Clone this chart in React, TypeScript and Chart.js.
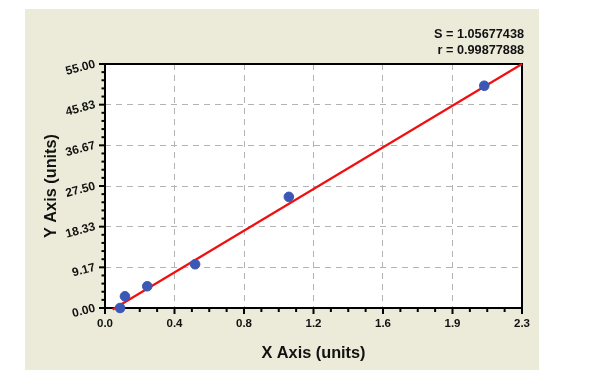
import { useEffect, useRef } from "react";
import { Chart, registerables } from "chart.js";

Chart.register(...registerables);

const xTickValues = [0, 0.38333, 0.76667, 1.15, 1.53333, 1.91667, 2.3];
const xTickLabels = ["0.0", "0.4", "0.8", "1.2", "1.6", "1.9", "2.3"];
const yTickValues = [0, 9.1667, 18.3333, 27.5, 36.6667, 45.8333, 55];
const yTickLabels = ["0.00", "9.17", "18.33", "27.50", "36.67", "45.83", "55.00"];
const pointX = [0.083, 0.11, 0.233, 0.497, 1.014, 2.092];
const pointY = [0.0, 2.64, 4.9, 9.86, 25.05, 50.1];
const fitX = [0.042, 2.3];
const fitY = [-0.35, 55];
const statLines = ["S = 1.05677438", "r = 0.99877888"];
const xTitle = "X Axis (units)";
const yTitle = "Y Axis (units)";

const FONT = "'Liberation Sans', Arial, sans-serif";

const decorPlugin = {
  id: "decor",
  beforeDraw(chart: any) {
    const ctx = chart.ctx;
    const a = chart.chartArea;
    ctx.save();
    ctx.fillStyle = "#ffffff";
    ctx.fillRect(0, 0, chart.width, chart.height);
    ctx.fillStyle = "#ECEBDA";
    ctx.fillRect(25, 9, 514, 361);
    ctx.fillStyle = "#ffffff";
    ctx.fillRect(a.left, a.top, a.right - a.left, a.bottom - a.top);
    ctx.restore();
  },
  beforeDatasetsDraw(chart: any) {
    const ctx = chart.ctx;
    const a = chart.chartArea;
    const xs = chart.scales.x;
    const ys = chart.scales.y;
    ctx.save();
    ctx.strokeStyle = "#000";
    ctx.lineWidth = 2;
    for (let i = 0; i < xTickValues.length; i++) {
      const px = xs.getPixelForValue(xTickValues[i]);
      ctx.beginPath();
      ctx.moveTo(px, a.bottom);
      ctx.lineTo(px, a.bottom + 6);
      ctx.stroke();
      if (i < xTickValues.length - 1) {
        const step = (xTickValues[i + 1] - xTickValues[i]) / 4;
        for (let k = 1; k < 4; k++) {
          const mx = xs.getPixelForValue(xTickValues[i] + step * k);
          ctx.beginPath();
          ctx.moveTo(mx, a.bottom);
          ctx.lineTo(mx, a.bottom + 4);
          ctx.stroke();
        }
      }
    }
    for (let i = 0; i < yTickValues.length; i++) {
      const py = ys.getPixelForValue(yTickValues[i]);
      ctx.beginPath();
      ctx.moveTo(a.left, py);
      ctx.lineTo(a.left - 6, py);
      ctx.stroke();
      if (i < yTickValues.length - 1) {
        const step = (yTickValues[i + 1] - yTickValues[i]) / 5;
        for (let k = 1; k < 5; k++) {
          const my = ys.getPixelForValue(yTickValues[i] + step * k);
          ctx.beginPath();
          ctx.moveTo(a.left, my);
          ctx.lineTo(a.left - 3.5, my);
          ctx.stroke();
        }
      }
    }
    ctx.strokeRect(a.left, a.top, a.right - a.left, a.bottom - a.top);
    ctx.restore();
  },
  afterDraw(chart: any) {
    const ctx = chart.ctx;
    const a = chart.chartArea;
    ctx.save();
    ctx.fillStyle = "#111";
    ctx.font = `bold 12.7px ${FONT}`;
    ctx.textAlign = "right";
    ctx.textBaseline = "middle";
    statLines.forEach((t, i) => ctx.fillText(t, a.right + 2, 34 + i * 16.5));
    ctx.restore();
  },
};

export default function App() {
  const ref = useRef<HTMLCanvasElement>(null);
  useEffect(() => {
    if (!ref.current) return;
    const chart = new Chart(ref.current, {
      type: "scatter",
      data: {
        datasets: [
          {
            type: "line",
            data: fitX.map((x, i) => ({ x, y: fitY[i] })),
            borderColor: "#f01010",
            borderWidth: 2.2,
            pointRadius: 0,
            fill: false,
            clip: false,
            order: 2,
          } as any,
          {
            type: "scatter",
            data: pointX.map((x, i) => ({ x, y: pointY[i] })),
            backgroundColor: "#3A58B4",
            borderColor: "#3A58B4",
            pointRadius: 4.8,
            clip: false,
            order: 1,
          } as any,
        ],
      },
      options: {
        responsive: false,
        animation: false,
        layout: { padding: { left: 0, top: 64, right: 78, bottom: 0 } },
        plugins: { legend: { display: false }, tooltip: { enabled: false } },
        scales: {
          x: {
            type: "linear",
            min: 0,
            max: 2.3,
            afterBuildTicks: (s: any) => {
              s.ticks = xTickValues.map((v) => ({ value: v }));
            },
            afterFit: (s: any) => {
              s.height = 76;
            },
            ticks: {
              callback: (_v: any, i: number) => xTickLabels[i],
              font: { family: FONT, size: 11.5, weight: "bold" },
              color: "#111",
              padding: 9,
              maxRotation: 0,
              autoSkip: false,
            },
            grid: {
              color: (c: any) => (c.index === 0 || c.index === xTickValues.length - 1 ? "rgba(0,0,0,0)" : "#b3b3b3"),
              lineWidth: 1,
              drawTicks: false,
            },
            border: { display: false, dash: [6, 5] },
            title: {
              display: true,
              text: xTitle,
              font: { family: FONT, size: 16.3, weight: "bold" },
              color: "#111",
              padding: { top: 0, bottom: 21 },
            },
          },
          y: {
            type: "linear",
            min: 0,
            max: 55,
            afterBuildTicks: (s: any) => {
              s.ticks = yTickValues.map((v) => ({ value: v }));
            },
            afterFit: (s: any) => {
              s.width = 105;
            },
            ticks: {
              callback: (_v: any, i: number) => yTickLabels[i],
              font: { family: FONT, size: 12, weight: "bold" },
              color: "#111",
              padding: 10,
              minRotation: 15,
              maxRotation: 15,
              autoSkip: false,
            },
            grid: {
              color: (c: any) => (c.index === 0 || c.index === yTickValues.length - 1 ? "rgba(0,0,0,0)" : "#b3b3b3"),
              lineWidth: 1,
              drawTicks: false,
            },
            border: { display: false, dash: [6, 5] },
            title: {
              display: true,
              text: yTitle,
              font: { family: FONT, size: 16.3, weight: "bold" },
              color: "#111",
              padding: { top: 42, bottom: 0 },
            },
          },
        },
      },
      plugins: [decorPlugin],
    } as any);
    return () => chart.destroy();
  }, []);
  return (
    <div style={{ position: "fixed", left: 0, top: 0, width: 600, height: 384 }}>
      <canvas ref={ref} width={600} height={384} />
    </div>
  );
}
